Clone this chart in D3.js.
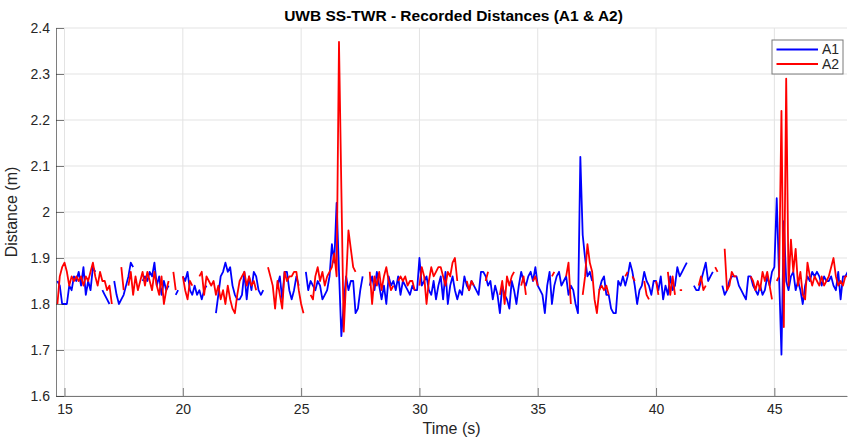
<!DOCTYPE html>
<meta charset="utf-8">
<style>
body { margin: 0; background: #fff; }
text { font-family: "Liberation Sans", Arial, Helvetica, sans-serif; }
.axis text { fill: #262626; font-size: 14px; }
.axis path, .axis line { stroke: #262626; stroke-width: 0.6; }
.grid line { stroke: #e3e3e3; stroke-width: 1; }
.title { font-size: 15.5px; font-weight: bold; fill: #000; }
.label { font-size: 16px; fill: #262626; }
.series { fill: none; stroke-width: 1.8; stroke-linejoin: round; }
.legend text { font-size: 14px; fill: #262626; }
</style>
<body>
<div id="chart"></div>
<script src="https://d3js.org/d3.v7.min.js"></script>
<script>

// sampling of the recording (10 Hz), first sample time
var t0 = 14.7, dt = 0.1;

// A1 distances (m), one row per second, null = no reading
var a1 = [
  1.85,1.84,1.80,1.80,1.80,1.84,1.83,1.86,1.85,1.87,
  1.84,1.88,1.82,1.85,1.83,1.88,1.87,null,null,1.83,
  1.82,1.81,1.80,null,1.85,1.82,1.80,1.81,1.82,1.84,
  1.86,1.89,1.88,null,null,null,1.85,1.86,1.85,1.87,
  1.86,1.89,1.84,1.86,1.82,1.85,1.83,1.84,null,null,
  1.82,1.83,null,1.86,1.85,1.87,1.83,1.82,1.84,1.82,
  1.83,1.81,1.83,1.84,null,null,null,1.78,1.82,1.86,
  1.87,1.89,1.87,1.88,1.84,1.82,1.81,1.81,1.82,1.87,
  1.81,1.86,1.83,1.87,1.86,1.83,1.82,1.83,null,null,
  null,null,null,1.84,1.86,1.81,1.87,1.87,1.83,1.81,
  1.83,1.86,1.84,null,null,1.87,1.83,1.85,1.84,1.83,
  1.85,1.84,1.81,1.82,1.83,1.86,1.93,1.89,2.02,1.87,
  1.73,1.80,1.86,1.83,1.85,1.85,1.78,1.79,1.83,1.86,
  null,null,1.84,1.86,1.83,1.87,1.84,1.81,1.84,1.80,
  1.86,1.84,1.85,1.83,1.86,1.82,1.85,1.84,1.83,1.82,
  1.84,1.83,1.83,1.90,1.84,1.85,1.86,1.83,1.82,1.85,
  1.81,1.84,1.86,1.81,1.87,1.80,1.84,1.86,1.83,1.81,
  1.83,1.82,1.86,1.84,1.83,1.85,1.84,1.83,1.82,1.87,
  1.87,1.86,1.84,1.85,1.81,1.84,1.82,1.78,1.84,1.82,
  1.81,1.79,1.85,1.83,1.80,1.84,1.87,1.85,1.84,1.86,
  1.87,1.85,1.88,1.84,1.83,1.82,1.78,1.84,1.87,1.80,
  1.84,1.86,1.87,1.84,1.85,1.86,1.82,1.84,1.83,1.80,
  1.78,2.12,1.95,1.90,1.86,1.87,1.85,null,null,1.83,
  1.85,1.86,1.82,1.82,1.79,1.78,1.78,1.85,1.84,1.86,
  1.84,1.86,1.89,1.87,1.84,1.80,1.83,1.84,1.87,1.85,
  1.84,1.82,1.85,1.85,1.83,1.86,1.81,1.84,1.82,1.86,
  1.83,1.84,1.88,1.86,1.87,1.88,1.89,null,null,1.84,
  1.83,1.83,1.85,1.87,1.89,1.85,1.86,1.87,null,null,
  null,1.84,1.82,1.83,1.85,1.86,1.86,1.86,1.84,1.83,
  1.82,1.81,1.86,1.86,1.84,1.83,1.82,1.84,1.82,1.83,
  1.86,1.84,1.87,1.88,2.03,1.86,1.69,1.98,1.85,1.83,
  1.86,1.87,1.83,1.85,1.83,1.80,1.84,1.86,1.85,1.87,
  1.86,1.87,1.86,1.84,1.86,1.85,1.85,1.86,1.84,1.83,
  1.87,1.81,1.86,1.86,1.87
];

// A2 distances (m)
var a2 = [
  1.80,1.86,1.88,1.89,1.87,1.84,1.86,1.85,1.86,1.85,
  1.86,1.84,1.86,1.85,1.87,1.89,1.86,1.84,1.87,1.85,
  1.85,1.83,1.84,1.80,null,null,null,1.88,1.83,null,
  1.84,1.87,1.82,1.86,1.83,1.85,1.87,1.84,1.87,1.85,
  1.83,1.87,1.84,1.82,1.86,1.80,1.83,1.85,null,1.87,
  1.83,null,null,1.86,1.83,1.81,1.85,1.84,null,null,
  1.86,1.87,1.82,1.86,1.85,1.84,1.85,1.82,1.84,1.81,
  1.83,1.80,1.84,1.81,1.79,1.78,1.82,1.85,1.86,1.87,
  1.84,1.86,1.84,1.85,1.83,null,null,null,null,1.88,
  1.86,1.84,1.79,1.85,1.82,1.79,1.87,1.85,1.86,1.86,
  1.87,1.87,1.83,1.80,1.78,null,null,1.82,1.81,1.86,
  1.88,1.85,1.87,1.84,1.86,1.87,1.88,1.91,1.86,2.37,
  2.05,1.74,1.85,1.96,1.92,1.88,1.87,null,null,null,
  null,null,1.87,1.80,1.86,1.84,1.87,1.83,1.86,1.88,
  1.85,1.83,1.84,null,1.85,1.86,1.85,1.86,1.84,1.85,
  1.85,1.83,null,1.84,1.88,1.86,1.80,1.85,1.88,1.86,
  1.87,1.88,1.88,1.86,1.84,1.87,1.86,1.89,1.90,1.85,
  null,null,null,1.85,1.83,1.85,1.84,null,null,null,
  null,1.85,1.87,null,null,null,null,1.82,1.85,1.80,
  1.86,1.84,1.86,1.87,null,null,1.84,1.86,1.82,null,
  null,1.85,1.86,1.84,null,null,null,null,null,1.86,
  1.87,null,null,null,null,1.86,1.89,1.80,null,null,
  null,null,1.82,1.86,1.93,1.89,1.87,1.81,1.78,1.83,
  1.84,1.83,1.84,1.82,null,null,null,null,null,null,
  1.86,1.87,null,1.86,1.85,null,null,null,1.85,1.82,
  1.81,null,null,1.85,1.82,null,null,null,1.87,1.82,
  1.86,1.82,null,1.83,1.83,null,null,null,null,null,
  null,1.84,1.86,1.83,1.84,null,null,null,1.88,1.87,
  null,null,1.92,1.83,1.84,1.87,1.86,1.86,null,null,
  null,null,null,1.86,1.85,1.83,1.85,1.83,1.87,1.85,
  1.87,1.84,1.81,null,1.85,1.86,2.22,1.75,2.29,1.84,
  1.94,1.87,1.92,1.84,1.87,1.82,1.81,1.89,1.86,1.84,
  1.86,1.85,1.84,1.86,1.84,1.85,1.86,1.88,1.90,1.86,
  1.84,1.85,1.84,1.86,1.86
];

var seriesNames = ["A1", "A2"];
var seriesColors = ["#0000ff", "#ff0000"];
var xTicks = [15, 20, 25, 30, 35, 40, 45];
var yTicks = [1.6, 1.7, 1.8, 1.9, 2, 2.1, 2.2, 2.3, 2.4];
var xLimits = [14.64, 48.07];
var yLimits = [1.6, 2.4];

var margin = {top: 28, right: 1, bottom: 43, left: 56},
    width = 848 - margin.left - margin.right,
    height = 439 - margin.top - margin.bottom;

var svg = d3.select("#chart").append("svg")
    .attr("width", 848)
    .attr("height", 439);

var g = svg.append("g")
    .attr("transform", "translate(" + margin.left + "," + margin.top + ")");

var x = d3.scaleLinear().domain(xLimits).range([0, width]);
var y = d3.scaleLinear().domain(yLimits).range([height, 0]);

// grid
g.append("g").attr("class", "grid")
  .selectAll("line").data(xTicks).enter().append("line")
    .attr("x1", function(d) { return x(d); })
    .attr("x2", function(d) { return x(d); })
    .attr("y1", 0).attr("y2", height);
g.append("g").attr("class", "grid")
  .selectAll("line").data(yTicks).enter().append("line")
    .attr("y1", function(d) { return y(d); })
    .attr("y2", function(d) { return y(d); })
    .attr("x1", 0).attr("x2", width);

// lines
svg.append("defs").append("clipPath").attr("id", "clip")
  .append("rect").attr("width", width).attr("height", height);

var line = d3.line()
    .defined(function(d) { return d.v != null; })
    .x(function(d) { return x(d.t); })
    .y(function(d) { return y(d.v); });

var series = [a1, a2].map(function(vals) {
  return vals.map(function(v, i) { return {t: t0 + i * dt, v: v}; });
});

g.append("g").attr("clip-path", "url(#clip)")
  .selectAll("path").data(series).enter().append("path")
    .attr("class", "series")
    .attr("stroke", function(d, i) { return seriesColors[i]; })
    .attr("d", line);

// axes (ticks point inwards)
g.append("g").attr("class", "axis")
    .attr("transform", "translate(0," + height + ")")
    .call(d3.axisBottom(x).tickValues(xTicks).tickSizeInner(-8).tickSizeOuter(0).tickPadding(8));

g.append("g").attr("class", "axis")
    .call(d3.axisLeft(y).tickValues(yTicks).tickFormat(d3.format("~g"))
      .tickSizeInner(-8).tickSizeOuter(0).tickPadding(6));

// labels
g.append("text").attr("class", "title")
    .attr("x", width / 2 + 2).attr("y", -7)
    .attr("text-anchor", "middle")
    .text("UWB SS-TWR - Recorded Distances (A1 & A2)");

g.append("text").attr("class", "label")
    .attr("x", width / 2).attr("y", height + 38)
    .attr("text-anchor", "middle")
    .text("Time (s)");

g.append("text").attr("class", "label")
    .attr("transform", "translate(" + (-39) + "," + (height / 2) + ") rotate(-90)")
    .attr("text-anchor", "middle")
    .text("Distance (m)");

// legend
var legend = g.append("g").attr("class", "legend")
    .attr("transform", "translate(" + (width - 75) + ",12)");

legend.append("rect")
    .attr("width", 71).attr("height", 34)
    .attr("fill", "#fff").attr("stroke", "#7a7a7a").attr("stroke-width", 1);

var item = legend.selectAll(".item").data(seriesNames).enter().append("g")
    .attr("class", "item")
    .attr("transform", function(d, i) { return "translate(0," + (9.5 + i * 14.5) + ")"; });

item.append("line")
    .attr("x1", 4.5).attr("x2", 46)
    .attr("stroke", function(d, i) { return seriesColors[i]; })
    .attr("stroke-width", 1.8);

item.append("text")
    .attr("x", 50).attr("dy", "0.35em")
    .text(function(d) { return d; });

</script>
</body>
</html>
